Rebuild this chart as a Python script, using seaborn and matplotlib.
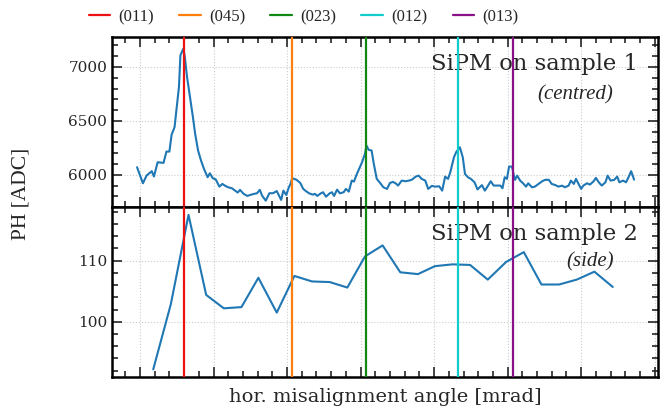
import numpy as np
import pandas as pd
import seaborn as sns
import matplotlib.pyplot as plt
from matplotlib.ticker import MultipleLocator

# angle positions (arbitrary mrad offset, axis has no tick labels)
x_top = [-0.04, 0.04, 0.09, 0.16, 0.19, 0.24, 0.32, 0.36, 0.40, 0.43, 0.47, 0.50, 0.53, 0.55,
         0.59, 0.61, 0.64, 0.68, 0.72, 0.75, 0.79, 0.83, 0.87, 0.92, 0.95, 0.99, 1.03, 1.08,
         1.12, 1.16, 1.20, 1.25, 1.28, 1.33, 1.36, 1.41, 1.46, 1.50, 1.55, 1.59, 1.63, 1.66,
         1.71, 1.76, 1.81, 1.86, 1.92, 1.95, 1.99, 2.02, 2.05, 2.07, 2.13, 2.18, 2.22, 2.26,
         2.30, 2.35, 2.38, 2.41, 2.46, 2.49, 2.53, 2.58, 2.61, 2.64, 2.68, 2.72, 2.77, 2.80,
         2.84, 2.88, 2.91, 2.95, 2.98, 3.02, 3.06, 3.08, 3.11, 3.15, 3.18, 3.22, 3.27, 3.31,
         3.36, 3.40, 3.44, 3.48, 3.51, 3.56, 3.61, 3.66, 3.70, 3.75, 3.79, 3.83, 3.88, 3.92,
         3.97, 4.01, 4.07, 4.11, 4.15, 4.19, 4.22, 4.27, 4.30, 4.35, 4.39, 4.42, 4.46, 4.50,
         4.55, 4.59, 4.65, 4.69, 4.72, 4.77, 4.81, 4.85, 4.90, 4.93, 4.96, 4.99, 5.02, 5.06,
         5.08, 5.10, 5.13, 5.17, 5.21, 5.25, 5.28, 5.33, 5.37, 5.42, 5.47, 5.51, 5.56, 5.60,
         5.65, 5.69, 5.74, 5.78, 5.83, 5.86, 5.90, 5.93, 5.96, 6.00, 6.03, 6.08, 6.12, 6.17,
         6.20, 6.24, 6.28, 6.33, 6.36, 6.40, 6.45, 6.49, 6.52, 6.57, 6.61, 6.64, 6.68, 6.72]
ph_top = [6071, 5922, 5994, 6034, 5985, 6117, 6111, 6216, 6216, 6372, 6442, 6628, 6814, 7108,
          7170, 7093, 6907, 6721, 6535, 6381, 6226, 6133, 6056, 5978, 6015, 5969, 5958, 5891,
          5916, 5898, 5885, 5876, 5861, 5836, 5861, 5824, 5805, 5814, 5824, 5829, 5861, 5808,
          5761, 5830, 5830, 5850, 5768, 5854, 5814, 5876, 5922, 5969, 5954, 5925, 5870, 5848,
          5829, 5817, 5824, 5805, 5829, 5839, 5798, 5829, 5839, 5805, 5863, 5829, 5839, 5870,
          5845, 5947, 5938, 6009, 6056, 6117, 6195, 6272, 6232, 6226, 6102, 5963, 5922, 5885,
          5870, 5925, 5935, 5920, 5901, 5947, 5941, 5947, 5956, 5984, 5993, 5963, 5947, 5870,
          5898, 5891, 5894, 5854, 5984, 5963, 6024, 6163, 6210, 6256, 6163, 6009, 5978, 5963,
          5931, 5865, 5905, 5854, 5885, 5941, 5901, 5901, 5901, 5876, 5978, 5963, 6077, 6077,
          6009, 5954, 5993, 5947, 5922, 5891, 5922, 5885, 5891, 5916, 5941, 5954, 5954, 5916,
          5905, 5891, 5900, 5885, 5901, 5947, 5916, 5963, 5922, 5870, 5901, 5922, 5910, 5941,
          5972, 5931, 5901, 5931, 5993, 5947, 5954, 5984, 5931, 5947, 5931, 5972, 6034, 5956]

x_bot = [0.18, 0.42, 0.66, 0.90, 1.14, 1.38, 1.61, 1.86, 2.10, 2.34, 2.58, 2.82, 3.06, 3.30,
         3.54, 3.78, 4.01, 4.25, 4.49, 4.73, 4.98, 5.22, 5.46, 5.70, 5.94, 6.18, 6.43]
ph_bot = [92.2, 102.9, 117.5, 104.4, 102.2, 102.4, 107.2, 101.5, 107.5, 106.6, 106.5, 105.6,
          110.7, 112.5, 108.1, 107.8, 109.1, 109.4, 109.3, 106.9, 109.8, 111.4, 106.1, 106.1,
          106.9, 108.2, 105.7]

planes = ['(011)', '(045)', '(023)', '(012)', '(013)']
plane_x = [0.60, 2.07, 3.07, 4.32, 5.07]
plane_colors = ['#ee1111', '#ff7f0e', '#118811', '#11cccc', '#881188']

sns.set_style('ticks')
plt.rcParams['font.family'] = ['DejaVu Serif']

fig = plt.figure(figsize=(6.63, 4.17), dpi=100)
ax1 = fig.add_axes([0.169, 0.503, 0.824, 0.4076])
ax2 = fig.add_axes([0.169, 0.0966, 0.824, 0.4064], sharex=ax1)

df1 = pd.DataFrame({'x': x_top, 'ph': ph_top})
df2 = pd.DataFrame({'x': x_bot, 'ph': ph_bot})
sns.lineplot(data=df1, x='x', y='ph', ax=ax1, color='#1f77b4', lw=1.5, zorder=3)
sns.lineplot(data=df2, x='x', y='ph', ax=ax2, color='#1f77b4', lw=1.5, zorder=3)

handles = []
for name, xv, c in zip(planes, plane_x, plane_colors):
    h = ax1.axvline(xv, color=c, lw=1.6, zorder=4, label=name)
    ax2.axvline(xv, color=c, lw=1.6, zorder=4)
    handles.append(h)

ax1.set_xlim(-0.38, 7.05)
ax1.set_ylim(5700, 7275)
ax2.set_ylim(91.0, 118.75)

for ax in (ax1, ax2):
    ax.xaxis.set_major_locator(MultipleLocator(1))
    ax.xaxis.set_minor_locator(MultipleLocator(0.2))
    ax.tick_params(which='both', direction='in', top=True, right=True,
                   labelbottom=False, labelsize=11, width=1.2)
    ax.tick_params(which='major', length=7)
    ax.tick_params(which='minor', length=4)
    ax.grid(True, which='major', ls=':', color='#cccccc', lw=0.8)
    ax.set_xlabel('')
    ax.set_ylabel('')
    for s in ax.spines.values():
        s.set_linewidth(1.8)
        s.set_color('black')
ax1.yaxis.set_major_locator(MultipleLocator(500))
ax1.yaxis.set_minor_locator(MultipleLocator(100))
ax2.yaxis.set_major_locator(MultipleLocator(10))
ax2.yaxis.set_minor_locator(MultipleLocator(2))

ax1.text(0.963, 0.805, 'SiPM on sample 1', transform=ax1.transAxes, ha='right',
         va='baseline', fontsize=16.3)
ax1.text(0.918, 0.66, '(centred)', transform=ax1.transAxes, ha='right', va='center',
         fontsize=15, family='Liberation Serif', style='italic')
ax2.text(0.963, 0.805, 'SiPM on sample 2', transform=ax2.transAxes, ha='right',
         va='baseline', fontsize=16.3)
ax2.text(0.918, 0.675, '(side)', transform=ax2.transAxes, ha='right', va='center',
         fontsize=15, family='Liberation Serif', style='italic')

fig.legend(handles=handles, loc='center', bbox_to_anchor=(0.458, 0.959), ncol=5,
           frameon=False, prop={'family': 'Liberation Serif', 'size': 12},
           handlelength=1.3, columnspacing=1.5, handletextpad=0.5)

fig.text(0.581, 0.048, 'hor. misalignment angle [mrad]', ha='center', va='center',
         fontsize=14)
fig.text(0.032, 0.535, 'PH [ADC]', rotation=90, ha='center', va='center', fontsize=15.5,
         family='Liberation Serif')

fig.savefig('out.png', dpi=100)
